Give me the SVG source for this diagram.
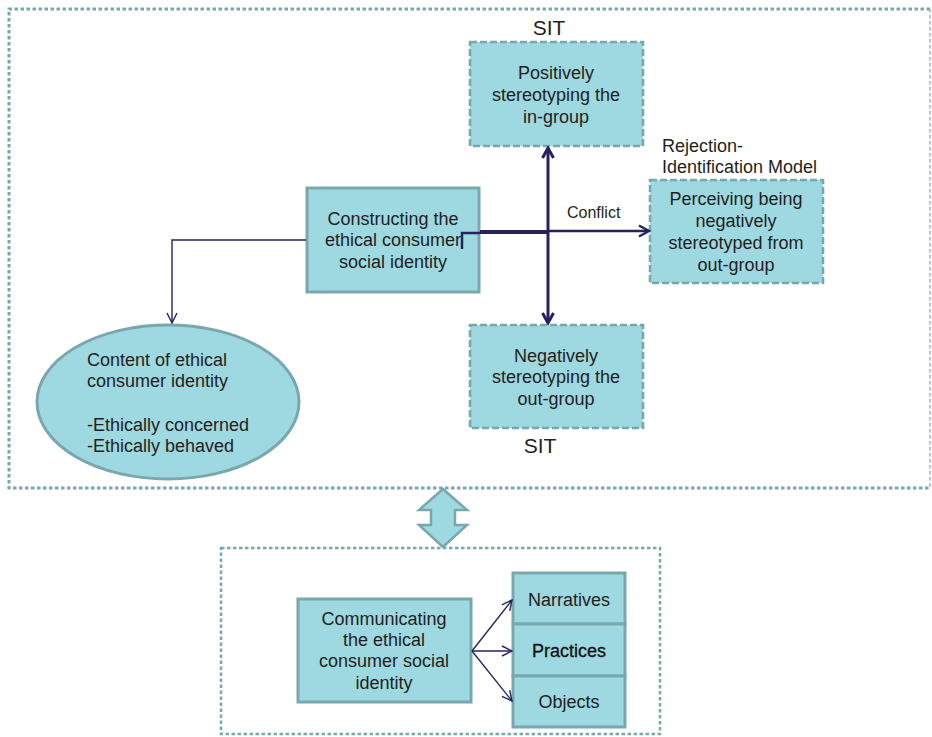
<svg xmlns="http://www.w3.org/2000/svg" width="932" height="737" viewBox="0 0 932 737">
<style>
text{font-family:"Liberation Sans",Arial,sans-serif;font-size:18px;fill:#231f20}
.c{text-anchor:middle}
.node{fill:#9ed8e0;stroke:#78a8ae;stroke-width:3}
.dnode{fill:#9ed8e0;stroke:#78a8ae;stroke-width:2.6;stroke-dasharray:7 3}
.frame{fill:none;stroke:#78a8ae;stroke-dasharray:3.5 2.5}
.conn{fill:none;stroke:#262262}
</style>
<defs>
<marker id="open" viewBox="0 0 12 12" refX="11" refY="6" markerWidth="12" markerHeight="12" markerUnits="userSpaceOnUse" orient="auto">
<path d="M1,1 L11,6 L1,11" fill="none" stroke="#262262" stroke-width="1.4"/>
</marker>
<marker id="bold" viewBox="0 0 14 14" refX="12" refY="7" markerWidth="14" markerHeight="14" markerUnits="userSpaceOnUse" orient="auto">
<path d="M2,1.5 L12,7 L2,12.5" fill="none" stroke="#262262" stroke-width="3"/>
</marker>
<marker id="mid" viewBox="0 0 14 14" refX="12" refY="7" markerWidth="14" markerHeight="14" markerUnits="userSpaceOnUse" orient="auto">
<path d="M2,1.5 L12,7 L2,12.5" fill="none" stroke="#262262" stroke-width="2.4"/>
</marker>
</defs>

<g id="frames">
<path class="frame" stroke-width="3" d="M930,9 H9 V488 H930"/>
<path class="frame" stroke-width="1.2" stroke-dasharray="2 2" d="M930,9 V488"/>
<rect class="frame" stroke-width="2.5" x="221" y="548" width="439" height="186"/>
</g>

<g id="double-arrow">
<polygon points="443,489 467,510 455,510 455,525 467,525 443,547 419,525 431,525 431,510 419,510" fill="#9ed8e0" stroke="#78a8ae" stroke-width="2.5"/>
</g>

<g id="constructing">
<rect class="node" x="307" y="188" width="172" height="104"/>
<text class="c" x="393" y="225">Constructing the</text>
<text class="c" x="393" y="246">ethical consumer</text>
<text class="c" x="393" y="268">social identity</text>
</g>

<g id="positively">
<text class="c" x="549" y="35" style="font-size:21px">SIT</text>
<rect class="dnode" x="470" y="42" width="173" height="104"/>
<text class="c" x="556" y="79">Positively</text>
<text class="c" x="556" y="101">stereotyping the</text>
<text class="c" x="556" y="123">in-group</text>
</g>

<g id="perceiving">
<text x="662" y="152">Rejection-</text>
<text x="662" y="173">Identification Model</text>
<rect class="dnode" x="650" y="180" width="173" height="103"/>
<text class="c" x="736" y="205">Perceiving being</text>
<text class="c" x="736" y="227">negatively</text>
<text class="c" x="736" y="249">stereotyped from</text>
<text class="c" x="736" y="271">out-group</text>
</g>

<g id="negatively">
<rect class="dnode" x="470" y="325" width="173" height="103"/>
<text class="c" x="556" y="362">Negatively</text>
<text class="c" x="556" y="383">stereotyping the</text>
<text class="c" x="556" y="405">out-group</text>
<text class="c" x="540" y="453" style="font-size:21px">SIT</text>
</g>

<g id="content">
<ellipse cx="168" cy="402" rx="131" ry="77" fill="#9ed8e0" stroke="#78a8ae" stroke-width="3"/>
<text x="87" y="366">Content of ethical</text>
<text x="87" y="387">consumer identity</text>
<text x="87" y="431">-Ethically concerned</text>
<text x="87" y="452">-Ethically behaved</text>
</g>

<g id="communicating">
<rect class="node" x="298" y="599" width="173" height="103"/>
<text class="c" x="384" y="625">Communicating</text>
<text class="c" x="384" y="646">the ethical</text>
<text class="c" x="384" y="667">consumer social</text>
<text class="c" x="384" y="689">identity</text>
</g>

<g id="narratives">
<rect class="node" x="513" y="573" width="112" height="51"/>
<text class="c" x="569" y="606">Narratives</text>
</g>
<g id="practices">
<rect class="node" x="513" y="624" width="112" height="52"/>
<text class="c" x="569" y="657" style="fill:#111;stroke:#111;stroke-width:0.3">Practices</text>
</g>
<g id="objects">
<rect class="node" x="513" y="676" width="112" height="51"/>
<text class="c" x="569" y="708">Objects</text>
</g>

<g id="connectors">
<path class="conn" stroke-width="1.4" d="M306,240 H172 V323" marker-end="url(#open)"/>
<path class="conn" stroke-width="2.5" d="M462,249 V233 H480"/>
<path class="conn" stroke-width="4" d="M480,232 H548"/>
<path class="conn" stroke-width="2.4" d="M548,231 H649" marker-end="url(#mid)"/>
<path class="conn" stroke-width="3" d="M548,232 V148" marker-end="url(#bold)"/>
<path class="conn" stroke-width="3" d="M548,232 V323" marker-end="url(#bold)"/>
<path class="conn" stroke-width="1.4" d="M472,651 L512,600" marker-end="url(#open)"/>
<path class="conn" stroke-width="1.4" d="M472,651 H512" marker-end="url(#open)"/>
<path class="conn" stroke-width="1.4" d="M472,651 L512,701" marker-end="url(#open)"/>
<text x="567" y="218" style="font-size:16px">Conflict</text>
</g>
</svg>
